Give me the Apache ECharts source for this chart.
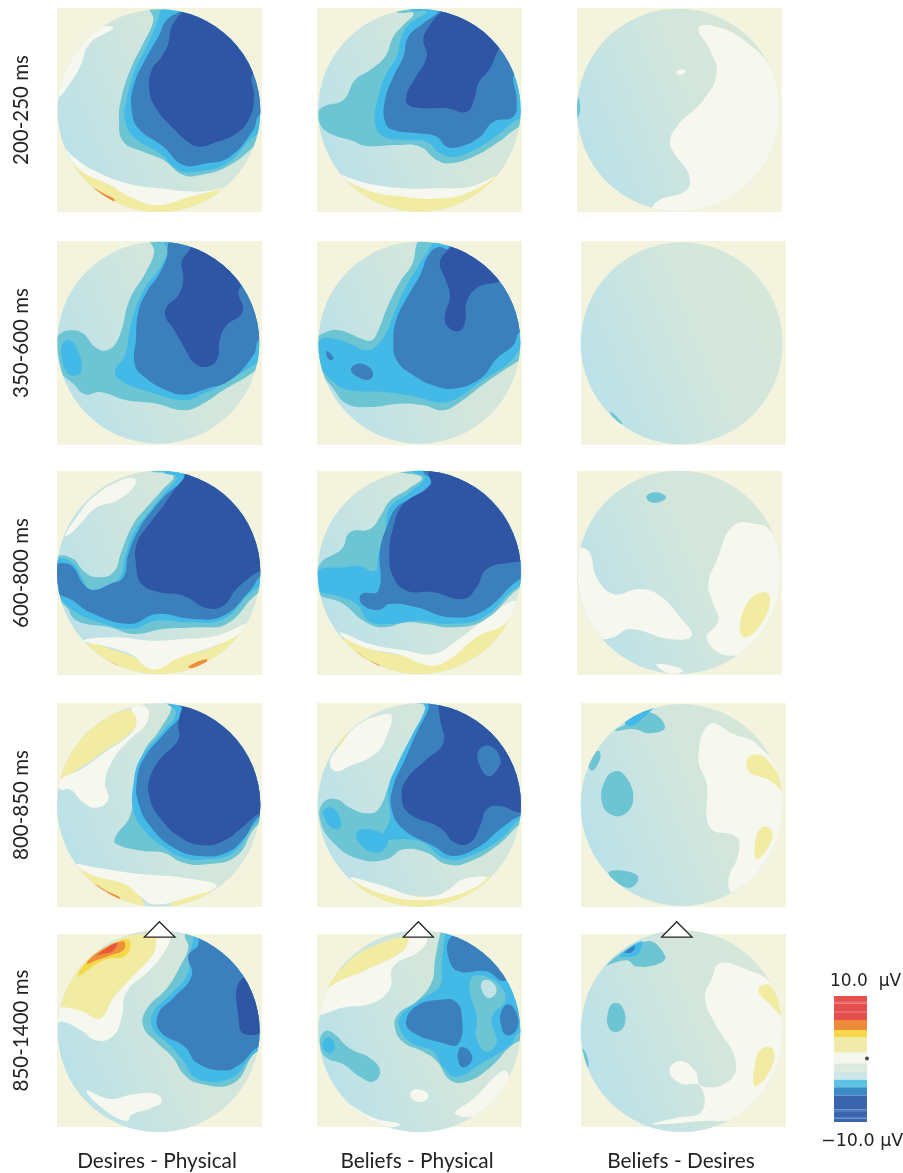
<!DOCTYPE html>
<html><head><meta charset="utf-8">
<style>html,body{margin:0;padding:0;background:#fff}#c{width:903px;height:1173px;filter:blur(.7px)}</style>
<script src="https://cdn.jsdelivr.net/npm/echarts@6/dist/echarts.min.js"></script>
</head><body><div id="c"></div>
<script>
const columnLabels=['Desires - Physical','Beliefs - Physical','Beliefs - Desires'];
const rowLabels=['200-250 ms','350-600 ms','600-800 ms','800-850 ms','850-1400 ms'];
const levelColors={R:'#e8593a',O:'#ef8f3c',A:'#f5d848',Y:'#f1eca2',W:'#f6f8ef',B:'#c2e3e5',T:'#6dc5d3',C:'#43b9e8',M:'#3c7fbd',D:'#2f56a5'};
const barEdges=[10,9.2,8.8,7.6,7.3,6.2,4.6,3.5,1,-0.7,-2,-3.3,-4.5,-5.8,-8,-8.4,-9.2,-9.5,-10];
const barColors=['#e5504f','#e8696a','#e5504f','#e8696a','#e5504f','#ee8a3b','#f6d84a','#f1ebab','#f5f7ee','#dceade','#cfe6e8','#5cc3e6','#3c8bc6','#3a64ae','#4f78bb','#3a64ae','#5580c0','#3a64ae'];
const markerValue=[0.08];

const dp200=[
['Y',[[50,470],[130,530],[230,570],[330,585],[440,585],[525,570],[520,650],[100,650],[30,520]]],
['O',[[130,565],[160,580],[195,600],[175,602],[140,582]]],
['W',[[40,440],[90,510],[180,555],[240,590],[320,615],[420,590],[520,565],[440,575],[330,565],[230,550],[130,510],[70,470]]],
['W',[[28,290],[60,250],[90,200],[120,130],[190,85],[180,78],[110,90],[60,150],[20,280]]],
['T',[[300,20],[310,60],[280,130],[245,200],[215,290],[207,360],[220,425],[280,455],[340,480],[400,525],[450,525],[530,500],[610,440],[700,340],[700,0],[350,0]]],
['C',[[335,20],[320,70],[285,150],[255,210],[230,300],[225,360],[250,410],[330,460],[385,510],[440,515],[530,490],[600,420],[700,330],[700,0],[340,0]]],
['M',[[395,30],[350,60],[325,110],[285,180],[250,260],[245,330],[265,385],[340,440],[400,495],[470,490],[540,470],[610,390],[628,345],[700,300],[700,0],[420,0]]],
['D',[[400,30],[365,80],[355,130],[335,170],[305,210],[298,270],[315,320],[360,375],[420,430],[450,440],[490,430],[560,400],[600,350],[612,290],[610,220],[700,150],[700,0],[420,0]]]];
const bp200=[
['Y',[[880,545],[950,570],[1060,585],[1160,585],[1260,570],[1340,530],[1300,650],[900,650]]],
['W',[[870,525],[950,570],[1060,590],[1180,595],[1260,575],[1335,530],[1260,560],[1160,565],[1060,565],[950,550]]],
['T',[[1040,35],[1090,40],[1060,75],[1030,110],[1005,170],[960,210],[915,240],[880,300],[820,320],[805,340],[815,380],[850,405],[900,420],[950,438],[1040,435],[1110,440],[1160,480],[1200,490],[1270,470],[1340,430],[1400,385],[1480,340],[1480,0],[1040,0]]],
['C',[[1080,30],[1130,35],[1080,70],[1055,110],[1040,170],[1010,220],[985,290],[975,370],[1000,410],[1060,420],[1130,425],[1170,460],[1215,470],[1290,440],[1350,400],[1400,360],[1480,330],[1480,0],[1080,0]]],
['M',[[1170,30],[1120,70],[1075,110],[1060,170],[1030,230],[1005,300],[1005,365],[1030,390],[1100,400],[1160,410],[1190,440],[1230,440],[1290,410],[1330,365],[1390,350],[1400,300],[1395,220],[1480,160],[1480,0],[1170,0]]],
['D',[[1170,40],[1130,90],[1120,120],[1130,170],[1095,235],[1070,285],[1075,315],[1130,325],[1190,325],[1250,335],[1275,290],[1285,250],[1320,205],[1345,150],[1400,60],[1220,0]]]];
const bd200=[
['W',[[385,85],[440,80],[520,120],[600,200],[640,320],[610,450],[530,570],[400,640],[250,640],[260,605],[350,570],[355,520],[320,470],[300,430],[320,380],[400,300],[440,220],[420,150]]],
['W',[[320,212],[345,210],[340,222],[322,222]]],
['T',[[10,280],[28,300],[25,350],[10,350]]]];

const dp350=[
['T',[[300,20],[312,60],[285,125],[240,200],[205,320],[170,355],[135,345],[100,305],[60,295],[25,310],[-10,350],[30,420],[70,455],[105,487],[150,480],[230,505],[320,515],[400,535],[450,520],[520,475],[610,420],[700,340],[700,0],[320,0]]],
['C',[[60,325],[85,360],[95,410],[80,430],[50,420],[35,370],[38,335]]],
['C',[[340,30],[355,50],[335,100],[290,160],[260,220],[240,290],[225,370],[195,420],[220,450],[300,480],[400,505],[450,490],[530,450],[610,400],[700,340],[700,0],[345,0]]],
['M',[[355,35],[350,75],[325,130],[290,180],[265,240],[258,320],[255,400],[290,440],[350,475],[400,488],[470,470],[540,445],[610,370],[630,320],[700,300],[700,0],[380,0]]],
['D',[[420,50],[395,90],[400,140],[385,190],[350,225],[347,255],[370,290],[405,350],[430,390],[465,405],[500,385],[510,320],[530,280],[578,240],[568,170],[640,120],[430,20]]]];
const bp350=[
['T',[[1120,20],[1085,100],[1050,150],[1010,230],[985,295],[965,325],[935,320],[870,295],[830,300],[790,330],[800,400],[850,470],[890,515],[960,525],[1050,515],[1120,520],[1180,535],[1230,510],[1310,450],[1400,390],[1480,340],[1480,0]]],
['C',[[1150,30],[1135,55],[1100,110],[1060,180],[1030,250],[1010,300],[985,335],[950,355],[900,335],[850,320],[810,325],[800,380],[850,450],[900,475],[1000,480],[1100,495],[1160,510],[1210,505],[1290,450],[1380,390],[1420,340],[1480,300],[1480,0],[1150,0]]],
['M',[[1195,50],[1165,45],[1135,70],[1110,130],[1075,190],[1040,260],[1030,320],[1040,385],[1090,430],[1150,460],[1210,470],[1290,440],[1340,380],[1390,340],[1410,300],[1480,280],[1480,0],[1200,0]]],
['M',[[830,358],[843,366],[850,380],[840,384],[830,372]]],
['M',[[915,398],[945,398],[968,420],[960,442],[925,436],[903,415]]],
['D',[[1198,50],[1170,90],[1185,140],[1200,190],[1185,250],[1190,280],[1225,298],[1245,270],[1250,210],[1285,165],[1345,150],[1480,100],[1250,0]]]];
const bd350=[
['T',[[120,1235],[135,1245],[158,1272],[140,1265]]]];

const dp600=[
['Y',[[105,545],[200,560],[300,590],[420,570],[500,545],[590,500],[610,650],[105,650]]],
['O',[[135,565],[165,585],[205,605],[185,608],[150,585]]],
['O',[[415,608],[470,585],[465,600],[435,612]]],
['W',[[100,530],[180,550],[250,575],[290,610],[325,615],[380,585],[480,550],[560,515],[590,480],[500,515],[400,525],[300,530],[200,520]]],
['W',[[45,215],[80,160],[130,100],[210,50],[255,45],[250,70],[200,110],[140,130],[90,180],[60,210]]],
['T',[[300,20],[370,35],[335,80],[290,130],[250,180],[215,260],[190,325],[140,340],[100,320],[70,285],[25,275],[10,300],[20,400],[50,430],[80,470],[180,490],[250,510],[340,495],[440,490],[530,480],[620,390],[700,340],[700,0],[320,0]]],
['C',[[340,25],[380,40],[345,85],[300,140],[255,200],[225,280],[210,340],[170,365],[120,375],[95,340],[70,300],[25,285],[15,340],[25,390],[70,440],[150,475],[240,495],[320,470],[420,475],[520,465],[610,380],[700,340],[700,0],[340,0]]],
['M',[[400,45],[350,90],[310,135],[270,190],[235,270],[220,340],[180,360],[130,378],[100,360],[70,310],[40,298],[5,310],[20,380],[70,410],[120,445],[240,480],[320,450],[430,465],[520,455],[600,380],[640,330],[700,330],[700,0],[400,0]]],
['D',[[405,35],[375,75],[340,125],[290,190],[260,240],[258,300],[275,360],[330,385],[400,395],[470,432],[520,425],[555,380],[600,340],[632,320],[700,300],[700,0],[410,0]]]];
const bp600=[
['Y',[[880,525],[960,555],[1060,575],[1150,590],[1220,550],[1300,490],[1385,450],[1420,650],[880,650]]],
['O',[[920,565],[950,585],[990,605],[970,608],[935,585]]],
['W',[[870,505],[960,540],[1060,558],[1150,570],[1220,530],[1300,470],[1395,410],[1370,475],[1280,520],[1200,585],[1140,605],[1050,572],[950,552],[880,520]]],
['T',[[1040,20],[1115,40],[1075,75],[1020,110],[995,150],[960,195],[900,205],[875,255],[810,300],[795,380],[880,420],[940,470],[1000,490],[1070,475],[1130,480],[1200,490],[1300,470],[1410,370],[1480,340],[1480,0],[1040,0]]],
['C',[[1090,25],[1125,40],[1080,85],[1020,130],[1005,200],[985,270],[975,320],[925,305],[880,310],[805,320],[800,375],[860,395],[920,420],[955,470],[1020,480],[1100,470],[1200,480],[1300,460],[1400,370],[1480,340],[1480,0],[1090,0]]],
['M',[[1120,25],[1145,50],[1090,100],[1040,130],[1010,190],[990,260],[985,380],[935,390],[935,420],[985,438],[1020,420],[1100,430],[1200,460],[1300,440],[1410,345],[1480,320],[1480,0],[1120,0]]],
['D',[[1135,25],[1140,65],[1060,120],[1030,190],[1018,270],[1030,340],[1070,380],[1150,385],[1240,405],[1280,370],[1310,315],[1390,295],[1480,280],[1480,0],[1135,0]]]];
const bd600=[
['W',[[490,185],[560,180],[600,200],[650,300],[630,420],[580,530],[480,575],[410,525],[445,470],[430,420],[415,360],[440,290]]],
['Y',[[575,385],[600,400],[580,470],[530,520],[510,500],[530,420]]],
['W',[[15,260],[55,260],[80,340],[130,390],[210,375],[270,395],[330,460],[365,515],[300,525],[180,495],[130,520],[90,520],[30,430],[15,340]]],
['T',[[230,95],[260,85],[288,100],[265,115],[238,112]]],
['W',[[260,600],[340,618],[300,630]]]];

const dp800=[
['Y',[[20,250],[60,170],[130,90],[235,42],[260,80],[230,120],[170,160],[100,210]]],
['Y',[[70,510],[220,560],[270,600],[280,650],[170,640],[90,560]]],
['Y',[[360,625],[490,575],[430,625],[380,650]]],
['O',[[135,565],[170,585],[210,605],[190,612],[150,590]]],
['W',[[245,35],[290,35],[290,80],[240,130],[190,190],[165,260],[175,310],[140,335],[100,320],[60,280],[30,280],[25,255],[100,215],[170,165],[240,115],[260,75]]],
['W',[[80,505],[140,515],[280,535],[400,545],[500,570],[410,605],[310,625],[270,600],[225,565],[120,535]]],
['T',[[340,20],[365,30],[330,100],[280,170],[250,270],[240,360],[195,425],[200,445],[280,465],[340,470],[400,500],[470,505],[560,480],[620,390],[700,340],[700,0],[360,0]]],
['C',[[350,20],[378,50],[335,110],[270,190],[250,270],[250,340],[280,400],[350,460],[400,485],[470,490],[550,470],[620,380],[700,340],[700,0],[350,0]]],
['M',[[385,20],[398,50],[345,110],[280,190],[260,260],[265,320],[300,390],[370,455],[450,480],[530,470],[580,430],[630,360],[700,340],[700,0],[385,0]]],
['D',[[400,20],[385,80],[385,130],[330,190],[298,250],[298,300],[325,360],[400,430],[470,448],[530,430],[570,400],[632,350],[700,330],[700,0],[400,0]]]];
const bp800=[
['Y',[[840,210],[870,140],[890,115],[880,150],[860,190]]],
['Y',[[905,550],[1000,585],[1110,600],[1200,600],[1250,560],[1320,545],[1250,610],[1120,650],[1000,620]]],
['W',[[840,195],[870,150],[920,90],[1000,55],[1025,60],[1010,120],[980,170],[900,210],[855,225]]],
['W',[[900,545],[1000,570],[1090,600],[1150,600],[1190,585],[1240,550],[1310,545],[1240,590],[1120,612],[1000,595]]],
['T',[[1100,20],[1125,30],[1110,80],[1060,180],[1020,260],[985,340],[950,352],[900,335],[860,310],[820,320],[810,370],[850,440],[930,490],[1010,490],[1060,460],[1130,470],[1190,505],[1250,500],[1340,450],[1410,385],[1480,340],[1480,0],[1100,0]]],
['C',[[820,345],[845,335],[870,365],[870,395],[845,395],[825,370]]],
['C',[[920,410],[960,400],[1010,425],[1010,450],[980,470],[935,450]]],
['C',[[1120,20],[1125,40],[1085,120],[1040,210],[1015,280],[1020,370],[1000,425],[1070,430],[1120,440],[1190,490],[1260,480],[1350,430],[1410,370],[1480,340],[1480,0],[1120,0]]],
['M',[[1135,20],[1135,40],[1100,110],[1065,190],[1030,270],[1025,340],[1060,400],[1150,450],[1210,480],[1290,450],[1350,400],[1410,360],[1480,340],[1480,0],[1135,0]]],
['D',[[1165,20],[1170,70],[1180,140],[1130,190],[1070,250],[1055,300],[1075,350],[1170,395],[1215,440],[1260,440],[1290,390],[1310,340],[1350,330],[1412,350],[1480,340],[1480,0],[1165,0]]],
['M',[[1285,165],[1320,150],[1350,185],[1345,215],[1315,240],[1290,210]]]];
const bd800=[
['W',[[420,780],[490,810],[560,840],[650,960],[650,1100],[610,1180],[490,1285],[475,1250],[505,1170],[500,1120],[420,1090],[410,960],[385,880]]],
['Y',[[540,875],[590,885],[650,990],[600,950],[535,920]]],
['Y',[[575,1090],[605,1100],[600,1140],[560,1185],[555,1140]]],
['T',[[135,800],[190,770],[240,745],[285,790],[240,808],[190,795]]],
['C',[[165,775],[250,730],[215,765],[185,785]]],
['T',[[55,885],[85,860],[90,885],[65,920]]],
['T',[[135,922],[165,935],[190,1000],[165,1050],[120,1050],[95,1010],[105,950]]],
['T',[[115,1228],[160,1220],[205,1240],[175,1272]]]];

const dp850=[
['Y',[[15,295],[60,210],[110,140],[180,90],[250,60],[325,65],[310,120],[250,190],[190,260],[150,325],[90,300]]],
['A',[[85,190],[125,130],[215,75],[240,80],[228,125],[160,140]]],
['O',[[110,150],[150,110],[220,80],[222,105],[180,125],[140,140]]],
['R',[[140,125],[200,85],[190,110],[160,120]]],
['W',[[15,295],[90,300],[150,325],[190,260],[250,190],[310,120],[325,65],[360,65],[345,110],[300,170],[230,240],[215,320],[190,380],[140,395],[90,360],[40,335],[15,340]]],
['W',[[110,555],[180,580],[250,565],[320,565],[335,590],[300,610],[245,630],[230,650],[170,620]]],
['T',[[405,60],[415,100],[390,160],[350,230],[290,295],[280,350],[320,400],[370,450],[400,500],[445,530],[550,530],[620,430],[700,400],[700,0],[420,0]]],
['C',[[430,70],[420,120],[410,190],[350,260],[308,310],[310,360],[360,410],[400,460],[440,515],[540,515],[620,430],[700,400],[700,0],[430,0]]],
['M',[[445,90],[415,125],[425,190],[370,260],[325,310],[330,365],[405,415],[440,465],[520,490],[570,470],[625,415],[700,400],[700,0],[445,0]]],
['D',[[575,200],[567,340],[585,375],[640,360],[700,200]]]];
const bp850=[
['Y',[[835,230],[880,160],[960,100],[1085,65],[1060,110],[950,170]]],
['W',[[800,310],[835,230],[950,170],[1060,110],[1085,65],[1130,70],[1110,110],[1030,160],[1020,230],[970,275],[880,290]]],
['W',[[1085,555],[1115,552],[1135,572],[1110,590],[1085,578]]],
['W',[[1215,625],[1270,580],[1360,490],[1375,520],[1280,630]]],
['W',[[900,600],[970,640],[1050,660],[1000,670],[930,640]]],
['T',[[1170,60],[1155,140],[1145,210],[1100,270],[1045,310],[1035,355],[1060,400],[1120,430],[1160,460],[1200,520],[1250,525],[1320,480],[1400,400],[1480,380],[1480,0],[1190,0]]],
['C',[[1185,60],[1175,150],[1170,220],[1120,260],[1050,320],[1055,370],[1090,405],[1150,430],[1180,480],[1220,510],[1290,470],[1380,410],[1410,370],[1480,370],[1480,0],[1200,0]]],
['M',[[1200,70],[1195,130],[1225,175],[1310,175],[1365,205],[1480,120],[1250,40]]],
['T',[[1265,195],[1300,190],[1350,220],[1365,270],[1330,310],[1325,340],[1340,400],[1310,430],[1280,390],[1280,320],[1260,240]]],
['B',[[1295,210],[1320,205],[1340,235],[1320,260],[1300,245]]],
['M',[[1175,265],[1215,270],[1235,310],[1225,405],[1170,400],[1090,370],[1068,335],[1100,285]]],
['M',[[1235,415],[1260,430],[1265,460],[1240,480],[1225,460],[1225,430]]],
['M',[[1375,280],[1400,310],[1400,360],[1370,378],[1352,340],[1355,300]]],
['T',[[815,375],[840,365],[900,420],[960,450],[990,490],[970,525],[930,510],[880,470],[830,450],[812,420]]],
['C',[[820,395],[840,385],[855,415],[840,435],[820,420]]]];
const bd850=[
['W',[[450,150],[530,170],[600,210],[650,330],[650,470],[600,570],[510,640],[400,650],[250,660],[320,640],[395,620],[390,540],[330,530],[298,490],[330,460],[375,490],[395,540],[480,520],[495,450],[440,350],[405,260],[425,200]]],
['Y',[[565,235],[600,220],[650,330],[600,280]]],
['Y',[[575,420],[610,425],[600,490],[555,540],[555,470]]],
['T',[[110,155],[230,80],[285,125],[270,150],[200,160],[170,140]]],
['C',[[150,125],[215,80],[205,120],[175,130]]],
['M',[[165,115],[195,95],[185,115]]],
['T',[[130,277],[155,285],[165,340],[140,368],[115,350],[115,300]]],
['T',[[35,420],[50,440],[55,480],[38,455]]]];

const panels=[
{c:dp200,ox:50,oy:0,x0:21,y0:24,cx:327,cy:332,r:304},
{c:bp200,ox:50,oy:0,x0:801,y0:24,cx:1108,cy:331,r:304},
{c:bd200,ox:570,oy:0,x0:21,y0:24,cx:325,cy:330,r:304},
{c:dp350,ox:50,oy:232,x0:21,y0:27,cx:325,cy:332,r:303},
{c:bp350,ox:50,oy:232,x0:801,y0:27,cx:1108,cy:332,r:303},
{c:bd350,ox:570,oy:0,x0:33,y0:723,cx:335,cy:1030,r:303},
{c:dp600,ox:50,oy:464,x0:21,y0:21,cx:326,cy:325,r:305},
{c:bp600,ox:50,oy:464,x0:801,y0:21,cx:1108,cy:325,r:305},
{c:bd600,ox:570,oy:464,x0:21,y0:20,cx:327,cy:325,r:305},
{c:dp800,ox:50,oy:696,x0:21,y0:21,cx:326,cy:327,r:305},
{c:bp800,ox:50,oy:696,x0:801,y0:21,cx:1108,cy:327,r:305},
{c:bd800,ox:570,oy:464,x0:33,y0:717,cx:335,cy:1023,r:303},
{c:dp850,ox:50,oy:915,x0:21,y0:57,cx:326,cy:365,r:303,tri:[[328,18],[283,67],[375,67]]},
{c:bp850,ox:50,oy:915,x0:801,y0:57,cx:1108,cy:365,r:303,tri:[[1105,18],[1060,67],[1150,67]]},
{c:bd850,ox:570,oy:915,x0:33,y0:57,cx:335,cy:365,r:303,tri:[[320,18],[275,67],[366,67]]}
];

const font='Lato';
const hidden={axisLine:{show:false},axisTick:{show:false},axisLabel:{show:false},splitLine:{show:false}};
const grids=[],xAxes=[],yAxes=[],series=[];
const baseFill=new echarts.graphic.LinearGradient(0,.7,1,.3,[{offset:0,color:'#b9e1e9'},{offset:.35,color:'#c9e4e1'},{offset:.6,color:'#d3e6dc'},{offset:1,color:'#d6e7da'}]);
panels.forEach((p,k)=>{
  const row=Math.floor(k/3),col=k%3;
  grids.push({left:p.ox+p.x0/3,top:p.oy+p.y0/3,width:205,height:204,show:true,backgroundColor:'#f3f3de',borderWidth:0});
  xAxes.push(Object.assign({gridIndex:k,type:'value',min:p.x0,max:p.x0+615},hidden,
    row===4?{name:columnLabels[col],nameLocation:'middle',nameGap:24,nameTextStyle:{fontFamily:font,fontSize:20.8,color:'#222',padding:[0,5,0,0]}}:{}));
  yAxes.push(Object.assign({gridIndex:k,type:'value',inverse:true,min:p.y0,max:p.y0+612},hidden,
    col===0?{name:rowLabels[row],nameLocation:'middle',nameRotate:90,nameGap:25,nameTextStyle:{fontFamily:font,fontSize:20.5,color:'#222'}}:{}));
  const items=[[p.cx,p.cy,-1]].concat(p.c.map((_,i)=>[p.cx,p.cy,i]));
  if(p.tri)items.push([p.cx,p.cy,-2]);
  series.push({type:'custom',coordinateSystem:'cartesian2d',xAxisIndex:k,yAxisIndex:k,silent:true,animation:false,clip:false,
    encode:{x:0,y:1},data:items,
    renderItem(params,api){
      const i=api.value(2);
      const c=api.coord([p.cx,p.cy]);
      const R=api.size([p.r,0])[0];
      if(i===-1)return {type:'circle',shape:{cx:c[0],cy:c[1],r:R},style:{fill:baseFill}};
      if(i===-2)return {type:'polygon',shape:{points:p.tri.map(t=>api.coord(t))},style:{fill:'#fff',stroke:'#222',lineWidth:1.3}};
      const [lvl,pts]=p.c[i];
      return {type:'polygon',shape:{points:pts.map(t=>api.coord(t)),smooth:.45},
        style:{fill:levelColors[lvl]},
        clipPath:{type:'circle',shape:{cx:c[0],cy:c[1],r:R}}};
    }});
});
// colour bar
const bi=panels.length;
grids.push({left:834,top:996,width:33,height:126});
xAxes.push(Object.assign({gridIndex:bi,type:'value',min:0,max:1},hidden));
yAxes.push(Object.assign({gridIndex:bi,type:'value',min:-10,max:10},hidden));
series.push({type:'custom',coordinateSystem:'cartesian2d',xAxisIndex:bi,yAxisIndex:bi,silent:true,animation:false,
  encode:{x:0,y:1},data:barColors.map((_,i)=>[0,barEdges[i],barEdges[i+1],i]),
  renderItem(params,api){
    const a=api.coord([0,api.value(1)]),b=api.coord([1,api.value(2)]);
    return {type:'rect',shape:{x:a[0],y:a[1],width:b[0]-a[0],height:b[1]-a[1]},style:{fill:barColors[api.value(3)]}};
  }});
series.push({type:'scatter',xAxisIndex:bi,yAxisIndex:bi,silent:true,animation:false,symbol:'circle',symbolSize:4,itemStyle:{color:'#222'},clip:false,data:[[1,markerValue[0]]]});

const chart=echarts.init(document.getElementById('c'),null,{renderer:'canvas'});
chart.setOption({animation:false,backgroundColor:'#fff',grid:grids,xAxis:xAxes,yAxis:yAxes,series,
  graphic:[
    {type:'text',left:830,top:973,style:{text:'10.0  μV',fontFamily:'DejaVu Sans',fontSize:17,fill:'#222'}},
    {type:'text',left:821,top:1132,style:{text:'−10.0 μV',fontFamily:'DejaVu Sans',fontSize:17.5,fill:'#222'}}
  ]});
</script></body></html>
